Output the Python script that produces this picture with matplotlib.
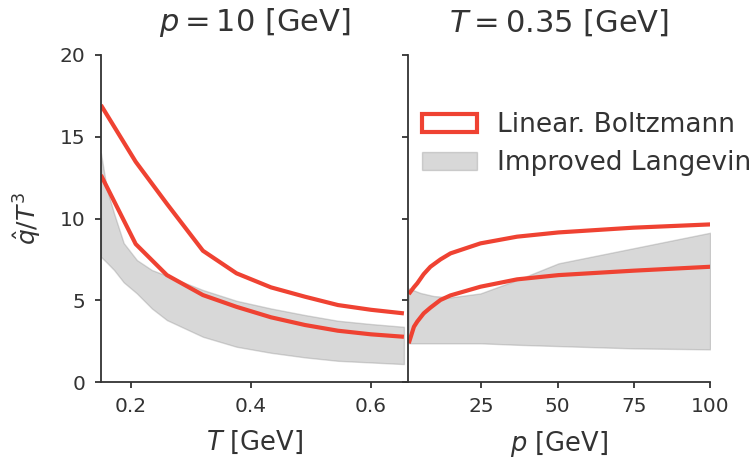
import numpy as np
import matplotlib
matplotlib.use("Agg")
import matplotlib.pyplot as plt
from matplotlib.patches import Patch

# ---- data: left panel (p = 10 GeV), vs T ----
T_lb = [0.15, 0.208, 0.26, 0.32, 0.376, 0.4335, 0.49, 0.545, 0.60, 0.655]
lb_T_hi = [16.94, 13.47, 10.9, 8.03, 6.65, 5.79, 5.22, 4.71, 4.42, 4.2]
lb_T_lo = [12.66, 8.44, 6.54, 5.32, 4.6, 3.96, 3.49, 3.14, 2.92, 2.77]

T_il = [0.15, 0.16, 0.172, 0.188, 0.21, 0.235, 0.26, 0.32, 0.376, 0.4335, 0.49, 0.545, 0.60, 0.655]
il_T_hi = [14.0, 11.8, 10.3, 8.5, 7.46, 6.85, 6.5, 5.63, 4.97, 4.5, 4.1, 3.75, 3.55, 3.38]
il_T_lo = [7.66, 7.3, 6.85, 6.1, 5.42, 4.5, 3.79, 2.77, 2.16, 1.79, 1.51, 1.3, 1.2, 1.1]

# ---- data: right panel (T = 0.35 GeV), vs p ----
p_lb = [1.2, 2.9, 4.0, 6.1, 8.3, 11.6, 14.9, 24.7, 36.7, 50.3, 74.8, 100]
lb_p_hi = [5.38, 5.8, 6.04, 6.6, 7.05, 7.5, 7.87, 8.48, 8.89, 9.15, 9.44, 9.64]
lb_p_lo = [2.37, 3.38, 3.7, 4.2, 4.55, 5.02, 5.3, 5.83, 6.28, 6.54, 6.81, 7.05]

p_il = [1.2, 5.0, 9.4, 14.9, 24.7, 36.7, 50.3, 74.8, 100]
il_p_hi = [5.73, 5.45, 5.26, 5.18, 5.42, 6.24, 7.26, 8.18, 9.13]
il_p_lo = [2.37, 2.37, 2.37, 2.37, 2.37, 2.28, 2.2, 2.06, 2.0]

labels = ['Linear. Boltzmann', 'Improved Langevin']

RED = '#ef4232'
TXT = '#333333'

plt.rcParams['font.family'] = ['DejaVu Sans']
plt.rcParams['text.color'] = TXT
plt.rcParams['axes.labelcolor'] = TXT
plt.rcParams['xtick.color'] = TXT
plt.rcParams['ytick.color'] = TXT
plt.rcParams['axes.edgecolor'] = '#333333'

fig = plt.figure(figsize=(7.53, 4.62), dpi=100)
ax1 = fig.add_axes([0.134, 0.173, 0.408, 0.708])
ax2 = fig.add_axes([0.542, 0.173, 0.401, 0.708], sharey=ax1)

def style(ax):
    for s in ['top', 'right']:
        ax.spines[s].set_visible(False)
    ax.spines['left'].set_linewidth(1.3)
    ax.spines['bottom'].set_linewidth(1.3)
    ax.tick_params(direction='out', length=4, width=1.3, labelsize=14.5, pad=7)

def panel(ax, x_lb, lo, hi, x_il, ilo, ihi):
    ax.plot(x_lb, hi, color=RED, lw=3, solid_capstyle='butt')
    ax.plot(x_lb, lo, color=RED, lw=3, solid_capstyle='butt')
    ax.fill_between(x_il, ilo, ihi, facecolor='gray', edgecolor='gray', alpha=0.3, linewidth=1)

panel(ax1, T_lb, lb_T_lo, lb_T_hi, T_il, il_T_lo, il_T_hi)
ax1.set_xlim(0.15, 0.662)
ax1.set_ylim(0, 20)
ax1.set_xticks([0.2, 0.4, 0.6])
ax1.set_yticks([0, 5, 10, 15, 20])
ax1.set_xlabel(r'$T$ [GeV]', fontsize=18.5, labelpad=9)
ax1.set_ylabel(r'$\hat{q}/T^3$', fontsize=18, labelpad=12)
ax1.set_title(r'$p = 10$ [GeV]', fontsize=22, pad=17)
style(ax1)

panel(ax2, p_lb, lb_p_lo, lb_p_hi, p_il, il_p_lo, il_p_hi)
ax2.set_xlim(1, 100)
ax2.set_xticks([25, 50, 75, 100])
ax2.set_xlabel(r'$p$ [GeV]', fontsize=18.5, labelpad=9)
ax2.set_title(r'$T = 0.35$ [GeV]', fontsize=22, pad=17)
style(ax2)
ax2.tick_params(labelleft=False)

handles = [Patch(facecolor='white', edgecolor=RED, linewidth=3),
           Patch(facecolor=(0.5, 0.5, 0.5, 0.3), edgecolor=(0.5, 0.5, 0.5, 0.3), linewidth=1)]
ax2.legend(handles, labels, loc='upper left', bbox_to_anchor=(0.011, 0.857), frameon=False,
           fontsize=19, handlelength=2.08, handleheight=0.7, handletextpad=0.76,
           labelspacing=0.45, borderaxespad=0)

fig.savefig('out.png', dpi=100)
